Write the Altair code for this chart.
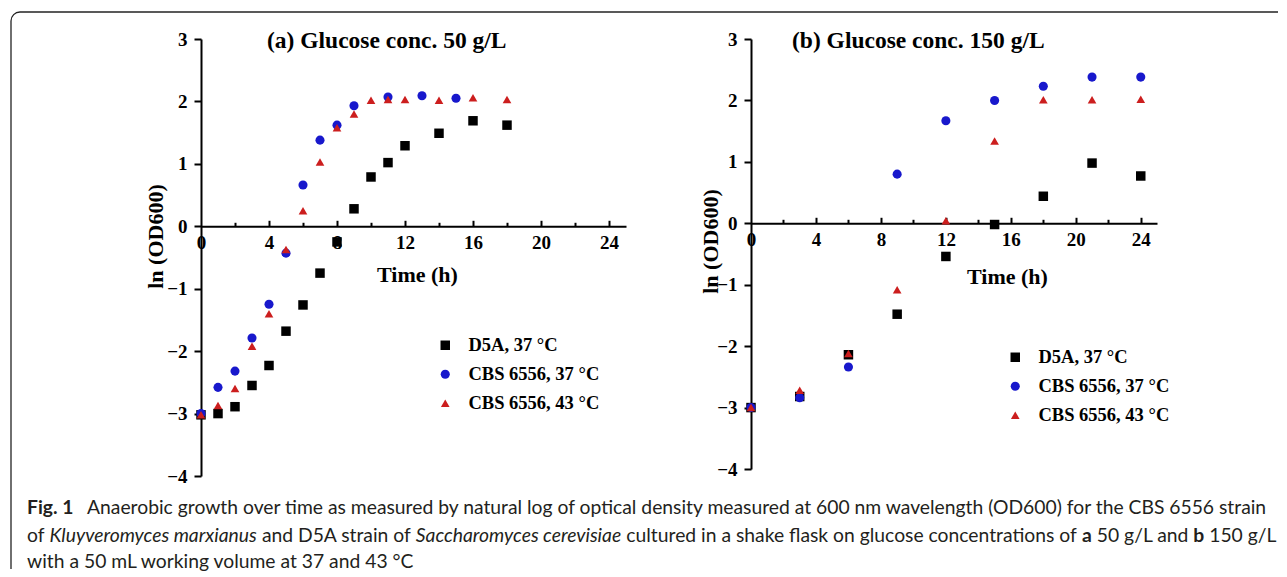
import math
import altair as alt
import pandas as pd

# ---------------- data ----------------
series = ["D5A, 37 °C", "CBS 6556, 37 °C", "CBS 6556, 43 °C"]
colors = ["#000000", "#1818CC", "#CC1E1E"]
shapes = ["square", "circle", "triangle-up"]

# panel (a) glucose 50 g/L
a_d5a_t = [0, 1, 2, 3, 4, 5, 6, 7, 8, 9, 10, 11, 12, 14, 16, 18]
a_d5a_v = [-3.02, -3.0, -2.89, -2.55, -2.23, -1.68, -1.26, -0.75, -0.25, 0.28, 0.79, 1.02, 1.29, 1.49, 1.69, 1.62]
a_c37_t = [0, 1, 2, 3, 4, 5, 6, 7, 8, 9, 11, 13, 15]
a_c37_v = [-3.0, -2.58, -2.32, -1.79, -1.25, -0.43, 0.66, 1.38, 1.62, 1.93, 2.07, 2.09, 2.05]
a_c43_t = [0, 1, 2, 3, 4, 5, 6, 7, 8, 9, 10, 11, 12, 14, 16, 18]
a_c43_v = [-3.02, -2.87, -2.6, -1.92, -1.40, -0.37, 0.25, 1.03, 1.58, 1.80, 2.02, 2.03, 2.03, 2.02, 2.06, 2.03]

# panel (b) glucose 150 g/L
b_t = [0, 3, 6, 9, 12, 15, 18, 21, 24]
b_d5a_v = [-3.0, -2.82, -2.14, -1.48, -0.54, -0.02, 0.44, 0.98, 0.77]
b_c37_v = [-3.0, -2.84, -2.34, 0.80, 1.67, 2.00, 2.23, 2.38, 2.38]
b_c43_v = [-3.0, -2.72, -2.12, -1.08, 0.04, 1.34, 2.01, 2.01, 2.02]

x_label_vals = [0, 4, 8, 12, 16, 20, 24]
x_tick_vals = [2, 4, 6, 8, 10, 12, 14, 16, 18, 20, 22, 24]
y_tick_vals = [-4, -3.5, -3, -2.5, -2, -1.5, -1, -0.5, 0, 0.5, 1, 1.5, 2, 2.5, 3]

title_a = "(a) Glucose conc. 50 g/L"
title_b = "(b) Glucose conc. 150 g/L"
x_title = "Time (h)"
y_title = "ln (OD600)"

cap1 = [("Fig. 1", "bold", "normal"),
        ("Anaerobic growth over time as measured by natural log of optical density measured at 600 nm wavelength (OD600) for the CBS 6556 strain", "normal", "normal")]
cap2 = [("of", "normal", "normal"),
        ("Kluyveromyces marxianus", "normal", "italic"),
        ("and D5A strain of", "normal", "normal"),
        ("Saccharomyces cerevisiae", "normal", "italic"),
        ("cultured in a shake flask on glucose concentrations of", "normal", "normal"),
        ("a", "bold", "normal"),
        ("50 g/L and", "normal", "normal"),
        ("b", "bold", "normal"),
        ("150 g/L", "normal", "normal")]
cap3 = [("with a 50 mL working volume at 37 and 43 °C", "normal", "normal")]

CAPFONT = "Lato"
SERIF = "Liberation Serif"


# ---------- text measuring (for placing the mixed-style caption pieces) ----------
_font_cache = {}


def _font_path(weight, style):
    key = (weight, style)
    if key in _font_cache:
        return _font_cache[key]
    path = None
    try:
        import subprocess
        st = {("normal", "normal"): "Regular", ("bold", "normal"): "Bold",
              ("normal", "italic"): "Italic", ("bold", "italic"): "Bold Italic"}[key]
        out = subprocess.run(["fc-match", "-f", "%{file}", f"{CAPFONT}:style={st}"],
                             capture_output=True, text=True, timeout=10).stdout.strip()
        if out:
            path = out
    except Exception:
        path = None
    _font_cache[key] = path
    return path


def measure(text, weight, style, size):
    try:
        from PIL import ImageFont
        p = _font_path(weight, style)
        f = ImageFont.truetype(p, 100)
        return f.getlength(text) * size / 100.0
    except Exception:
        k = 0.5 if weight == "bold" else 0.465
        return len(text) * size * k


# target: "Anaerobic ... strain" spans 1180 px in the reference
ref_size = 18.0
cap_size = ref_size * 1180.0 / measure(cap1[1][0], "normal", "normal", ref_size)
cap_size = max(16.0, min(cap_size, 21.0))
space_w = measure(" ", "normal", "normal", cap_size)


def layout_line(line, x0, gap_after_first=None):
    out = []
    x = x0
    for i, (txt, fw, fs) in enumerate(line):
        out.append((txt, fw, fs, x))
        x += measure(txt, fw, fs, cap_size)
        x += space_w if (gap_after_first is None or i > 0) else gap_after_first
    return out


def make_df(groups):
    rows = []
    for name, ts, vs in groups:
        for t, v in zip(ts, vs):
            rows.append({"t": t, "v": v, "s": name})
    return pd.DataFrame(rows)


df_a = make_df([(series[0], a_d5a_t, a_d5a_v), (series[1], a_c37_t, a_c37_v), (series[2], a_c43_t, a_c43_v)])
df_b = make_df([(series[0], b_t, b_d5a_v), (series[1], b_t, b_c37_v), (series[2], b_t, b_c43_v)])
dummy = pd.DataFrame({"k": [0]})


def panel(df, W, H, title, title_x, leg_x, leg_y, xt_x, xt_y, yt_x, yt_y, extra=None):
    ypos = H * 3.0 / 7.0
    xscale = alt.Scale(domain=[0, 25], nice=False, zero=False)
    yscale = alt.Scale(domain=[-4, 3], nice=False, zero=False)
    base = alt.Chart(df)
    pts = base.mark_point(filled=True, opacity=1, strokeWidth=0).encode(
        x=alt.X("t:Q", scale=xscale,
                axis=alt.Axis(orient="bottom", offset=-(H - ypos), values=x_label_vals, ticks=False,
                              format="d", labelPadding=7, labelFlush=False, domainWidth=2,
                              title=x_title, titleX=xt_x, titleY=xt_y, titleAlign="center",
                              titleBaseline="middle", titleFontSize=22)),
        y=alt.Y("v:Q", scale=yscale,
                axis=alt.Axis(values=y_tick_vals, format="d",
                              labelExpr="datum.value % 1 === 0 ? datum.label : ''",
                              tickSize={"condition": {"test": "datum.value % 1 === 0", "value": 7}, "value": 4},
                              tickWidth=2, domainWidth=2, labelPadding=7, labelFlush=False,
                              title=y_title, titleX=yt_x, titleY=yt_y, titleAngle=270,
                              titleAlign="center", titleBaseline="middle", titleFontSize=22)),
        color=alt.Color("s:N", scale=alt.Scale(domain=series, range=colors),
                        legend=alt.Legend(orient="none", legendX=leg_x, legendY=leg_y, title=None,
                                          labelFont=SERIF, labelFontWeight="bold", labelFontSize=18.5,
                                          labelColor="black", symbolSize=95, rowPadding=10,
                                          padding=0, labelOffset=14, symbolStrokeWidth=0,
                                          symbolOpacity=1)),
        shape=alt.Shape("s:N", scale=alt.Scale(domain=series, range=shapes)),
        size=alt.Size("s:N", scale=alt.Scale(domain=series, range=[90, 75, 130]), legend=None),
    )
    ticks = base.mark_point(opacity=0).encode(
        x=alt.X("t:Q", scale=xscale,
                axis=alt.Axis(orient="top", offset=-ypos, values=x_tick_vals, labels=False,
                              domain=False, tickWidth=2,
                              tickSize={"condition": {"test": "datum.value % 4 === 0", "value": 6}, "value": 4},
                              title=None)),
    )
    ttl = alt.Chart(dummy).mark_text(align="left", baseline="alphabetic", font=SERIF,
                                     fontWeight="bold", fontSize=23.5, color="black").encode(
        x=alt.value(title_x), y=alt.value(9), text=alt.value(title))
    layers = [pts, ticks, ttl]
    if extra:
        layers += extra
    return alt.layer(*layers).resolve_axis(x="independent").properties(width=W, height=H)


# frame and caption live in panel (a) coordinates (origin = panel (a) plot top-left, page 201,38)
FL, FT, R = -190, -27, 9
frame = [
    alt.Chart(dummy).mark_rule(color="#222222", strokeWidth=1.3).encode(
        x=alt.value(FL + R), x2=alt.value(1077), y=alt.value(FT)),
    alt.Chart(dummy).mark_rule(color="#222222", strokeWidth=1.3).encode(
        x=alt.value(FL), y=alt.value(FT + R), y2=alt.value(530)),
    alt.Chart(dummy).mark_arc(color="#222222").encode(
        x=alt.value(FL + R), y=alt.value(FT + R),
        theta=alt.value(1.5 * math.pi), theta2=alt.value(2 * math.pi),
        radius=alt.value(R + 0.65), radius2=alt.value(R - 0.65)),
]

X0 = -174
fig_w = measure(cap1[0][0], "bold", "normal", cap_size)
lines = [
    (layout_line(cap1, X0, gap_after_first=(-114 - X0) - fig_w), 475),
    (layout_line(cap2, X0), 503),
    (layout_line(cap3, X0), 529),
]
caption = []
for segs, yb in lines:
    for txt, fw, fs, xx in segs:
        caption.append(alt.Chart(dummy).mark_text(
            align="left", baseline="alphabetic", font=CAPFONT, fontSize=round(cap_size, 2),
            fontWeight=fw, fontStyle=fs, color="#231f20").encode(
            x=alt.value(round(xx, 1)), y=alt.value(yb), text=alt.value(txt)))

pa = panel(df_a, 425, 437, title_a, 66, 235, 297, 216, 48, -46, 197, extra=frame + caption)
pb = panel(df_b, 406, 430, title_b, 41, 255, 309, 256, 53, -41, 202)

chart = alt.hconcat(pa, pb, spacing=125, bounds="flush").resolve_scale(
    color="independent", shape="independent", size="independent"
).properties(
    padding={"left": 2, "top": 3, "right": 0, "bottom": 0}, background="white"
).configure_view(strokeWidth=0).configure_axis(
    labelFont=SERIF, labelFontWeight="bold", labelFontSize=19, labelColor="black",
    titleFont=SERIF, titleFontWeight="bold", titleColor="black",
    domainColor="black", tickColor="black", grid=False
)

chart.save("out.html", embed_options={"renderer": "svg", "actions": False})
